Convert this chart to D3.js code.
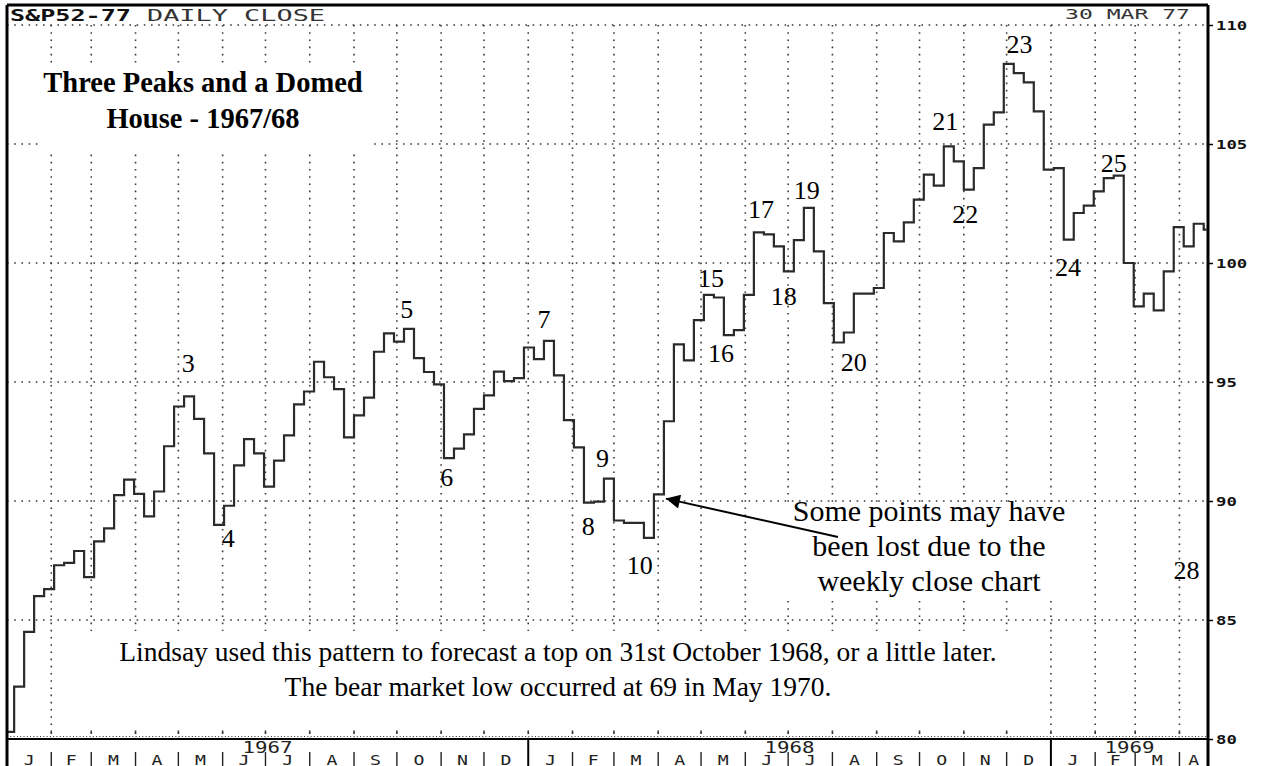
<!DOCTYPE html>
<html lang="en">
<head>
<meta charset="utf-8">
<title>S&amp;P Three Peaks and a Domed House 1967/68</title>
<style>
  body { margin: 0; padding: 0; background: #fff; }
  svg { display: block; }
  .mono { font-family: "DejaVu Sans Mono", "Liberation Mono", monospace; }
  .serif { font-family: "Liberation Serif", "Times New Roman", serif; }
</style>
</head>
<body>
<div id="chart"></div>
<script src="https://cdn.jsdelivr.net/npm/d3@7/dist/d3.min.js"></script>
<script>
// weekly closes (Friday), first value is the close of 30 Dec 1966
const weeklyCloses = [
  80.3, 82.2, 84.5, 86.0, 86.3, 87.3, 87.4, 87.9, 86.8, 88.3,
  88.85, 90.25, 90.9, 90.3, 89.35, 90.4, 92.3, 93.97, 94.4, 93.45,
  92.0, 89.0, 89.8, 91.5, 92.6, 92.0, 90.6, 91.7, 92.76, 94.06,
  94.6, 95.85, 95.2, 94.7, 92.67, 93.6, 94.34, 96.27, 97.04, 96.7,
  97.23, 96.0, 95.42, 94.9, 91.8, 92.2, 92.8, 93.87, 94.44, 95.44,
  95.04, 95.16, 96.45, 95.96, 96.73, 95.28, 93.4, 92.25, 89.93, 89.97,
  90.94, 89.18, 89.08, 89.08, 88.45, 90.28, 93.35, 96.58, 95.91, 97.6,
  98.66, 98.55, 96.97, 97.18, 98.66, 101.29, 101.2, 100.7, 99.65, 100.96,
  102.32, 100.49, 98.31, 96.66, 97.08, 98.71, 98.71, 98.95, 101.26, 100.91,
  101.71, 102.66, 103.71, 103.25, 104.9, 104.27, 103.08, 103.99, 105.81, 106.33,
  108.37, 107.98, 107.59, 106.37, 103.92, 103.99, 100.98, 102.1, 102.41, 103.01,
  103.57, 103.67, 100.0, 98.18, 98.71, 98.01, 99.65, 101.51, 100.7, 101.65,
  101.4
];

const priceTicks = [80, 85, 90, 95, 100, 105, 110];
const monthLetters = ["J", "F", "M", "A", "M", "J", "J", "A", "S", "O", "N", "D"];
const yearLabels = ["1967", "1968", "1969"];

// numbered turning points: label, date, value at the label's baseline
const pointLabels = [
  ["3", "1967-05-08", 95.4], ["4", "1967-06-05", 88.07], ["5", "1967-10-08", 97.69],
  ["6", "1967-11-05", 90.63], ["7", "1968-01-12", 97.27], ["8", "1968-02-12", 88.57],
  ["9", "1968-02-22", 91.43], ["10", "1968-03-19", 86.93], ["15", "1968-05-08", 98.99],
  ["16", "1968-05-15", 95.84], ["17", "1968-06-12", 101.89], ["18", "1968-06-28", 98.24],
  ["19", "1968-07-14", 102.69], ["20", "1968-08-16", 95.46], ["21", "1968-10-19", 105.59],
  ["22", "1968-11-02", 101.68], ["23", "1968-12-10", 108.82], ["24", "1969-01-13", 99.45],
  ["25", "1969-02-14", 103.82], ["28", "1969-04-06", 86.72]
];

const titleLines = ["Three Peaks and a Domed", "House - 1967/68"];
const noteLines = ["Some points may have", "been lost due to the", "weekly close chart"];
const footLines = [
  "Lindsay used this pattern to forecast a top on 31st October 1968, or a little later.",
  "The bear market low occurred at 69 in May 1970."
];

const W = 1278, H = 766;
const plotLeft = 7, plotRight = 1208, plotTop = 5, plotBottom = 739;

const svg = d3.select("#chart").append("svg")
  .attr("width", W).attr("height", H);

const x = d3.scaleTime()
  .domain([new Date(1967, 0, 1), new Date(1969, 3, 21)])
  .range([plotLeft, plotRight]);

const y = d3.scaleLinear()
  .domain([80, 110])
  .range([plotBottom, 25]);

const fridays = d3.timeFriday.range(new Date(1966, 11, 30), new Date(1969, 3, 19));
const data = weeklyCloses.map((c, i) => ({ date: fridays[i], close: c }));
// let the last weekly step run on a couple of days
data.push({ date: d3.timeDay.offset(data[data.length - 1].date, 2), close: weeklyCloses[weeklyCloses.length - 1] });

const months = d3.timeMonth.range(new Date(1967, 1, 1), x.domain()[1]);
const allMonths = d3.timeMonth.range(new Date(1967, 0, 1), x.domain()[1]);

// dotted grid
const grid = svg.append("g")
  .attr("stroke", "#3a3a3a")
  .attr("stroke-width", 1.6)
  .attr("stroke-dasharray", "1.6,5.6");

grid.selectAll("line.h")
  .data(priceTicks.filter(v => v > 80))
  .join("line")
  .attr("x1", plotLeft).attr("x2", plotRight)
  .attr("y1", d => y(d)).attr("y2", d => y(d));

grid.selectAll("line.v")
  .data(months)
  .join("line")
  .attr("x1", d => x(d)).attr("x2", d => x(d))
  .attr("y1", y(110)).attr("y2", plotBottom);

// white panels behind the annotations
const boxes = [[42, 64, 330, 86], [60, 631, 975, 99], [772, 505, 314, 95]];
svg.append("g").selectAll("rect")
  .data(boxes)
  .join("rect")
  .attr("x", d => d[0]).attr("y", d => d[1])
  .attr("width", d => d[2]).attr("height", d => d[3])
  .attr("fill", "#fff");

// row of tiny ticks above the time axis and month ticks
svg.append("line")
  .attr("x1", plotLeft).attr("x2", plotRight)
  .attr("y1", plotBottom - 2.5).attr("y2", plotBottom - 2.5)
  .attr("stroke", "#333").attr("stroke-width", 1)
  .attr("stroke-dasharray", "1,2.3");

svg.append("g").selectAll("line")
  .data(months)
  .join("line")
  .attr("x1", d => x(d)).attr("x2", d => x(d))
  .attr("y1", plotBottom - 7).attr("y2", plotBottom - 5)
  .attr("stroke", "#333").attr("stroke-width", 1.6);

// price line
svg.append("clipPath").attr("id", "plotClip")
  .append("rect")
  .attr("x", plotLeft).attr("y", plotTop)
  .attr("width", plotRight - plotLeft).attr("height", plotBottom - plotTop);

const line = d3.line()
  .x(d => x(d.date))
  .y(d => y(d.close))
  .curve(d3.curveStepAfter);

svg.append("path")
  .datum(data)
  .attr("clip-path", "url(#plotClip)")
  .attr("fill", "none")
  .attr("stroke", "#2b2b2b")
  .attr("stroke-width", 2.2)
  .attr("d", line);

// frame
svg.append("line").attr("x1", plotLeft).attr("x2", plotLeft).attr("y1", plotTop).attr("y2", H)
  .attr("stroke", "#000").attr("stroke-width", 3);
svg.append("line").attr("x1", plotRight).attr("x2", plotRight).attr("y1", plotTop).attr("y2", H)
  .attr("stroke", "#000").attr("stroke-width", 3);
svg.append("line").attr("x1", plotLeft).attr("x2", plotRight).attr("y1", plotTop).attr("y2", plotTop)
  .attr("stroke", "#000").attr("stroke-width", 3);
svg.append("line").attr("x1", plotLeft).attr("x2", plotRight).attr("y1", plotBottom).attr("y2", plotBottom)
  .attr("stroke", "#000").attr("stroke-width", 2);

// right price axis
const yAxis = d3.axisRight(y).tickValues(priceTicks).tickSize(4).tickPadding(3);
const yAxisG = svg.append("g")
  .attr("transform", `translate(${plotRight + 1},0)`)
  .call(yAxis);
yAxisG.select(".domain").remove();
yAxisG.selectAll(".tick line").attr("stroke", "#000").attr("stroke-width", 1.5);
yAxisG.selectAll(".tick text")
  .attr("class", "mono")
  .attr("fill", "#111")
  .attr("font-size", 13)
  .attr("font-weight", "bold")
  .attr("text-anchor", "start")
  .attr("dy", "0.36em")
  .attr("textLength", d => String(d).length * 10.4)
  .attr("lengthAdjust", "spacingAndGlyphs");

// time axis: year dividers, month separators and letters
const years = d3.timeYear.range(new Date(1968, 0, 1), x.domain()[1]);
svg.append("g").selectAll("line")
  .data(years)
  .join("line")
  .attr("x1", d => x(d)).attr("x2", d => x(d))
  .attr("y1", plotBottom).attr("y2", H)
  .attr("stroke", "#000").attr("stroke-width", 2);

svg.append("g").selectAll("line")
  .data(months.filter(d => d.getMonth() !== 0))
  .join("line")
  .attr("x1", d => x(d)).attr("x2", d => x(d))
  .attr("y1", 752).attr("y2", H)
  .attr("stroke", "#222").attr("stroke-width", 1.4);

const monthMid = d => (x(d) + Math.min(x(d3.timeMonth.offset(d, 1)), plotRight)) / 2;
svg.append("g").selectAll("text")
  .data(allMonths)
  .join("text")
  .attr("class", "mono")
  .attr("x", monthMid)
  .attr("y", 765)
  .attr("text-anchor", "middle")
  .attr("font-size", 14)
  .attr("fill", "#222")
  .attr("transform", d => `translate(${monthMid(d)},0) scale(1.3,1) translate(${-monthMid(d)},0)`)
  .text(d => monthLetters[d.getMonth()]);

svg.append("g").selectAll("text")
  .data(yearLabels)
  .join("text")
  .attr("class", "mono")
  .attr("x", d => {
    const a = x(new Date(+d, 0, 1)), b = Math.min(x(new Date(+d + 1, 0, 1)), plotRight);
    return (Math.max(a, plotLeft) + b) / 2 - 25;
  })
  .attr("y", 753)
  .attr("font-size", 15)
  .attr("fill", "#222")
  .attr("textLength", 50)
  .attr("lengthAdjust", "spacingAndGlyphs")
  .text(d => d);

// header
svg.append("text").attr("class", "mono")
  .attr("x", 10).attr("y", 21)
  .attr("font-size", 15).attr("font-weight", "bold").attr("fill", "#111")
  .attr("textLength", 121).attr("lengthAdjust", "spacingAndGlyphs")
  .text("S&P52-77");
svg.append("text").attr("class", "mono")
  .attr("x", 147).attr("y", 21)
  .attr("font-size", 15).attr("fill", "#333")
  .attr("textLength", 178).attr("lengthAdjust", "spacingAndGlyphs")
  .text("DAILY CLOSE");
svg.append("text").attr("class", "mono")
  .attr("x", 1065).attr("y", 19)
  .attr("font-size", 14).attr("fill", "#333")
  .attr("textLength", 125).attr("lengthAdjust", "spacingAndGlyphs")
  .text("30 MAR 77");

// title
svg.append("g").selectAll("text")
  .data(titleLines)
  .join("text")
  .attr("class", "serif")
  .attr("x", 203).attr("y", (d, i) => 92 + i * 36)
  .attr("text-anchor", "middle")
  .attr("font-size", 28.5).attr("font-weight", "bold")
  .text(d => d);

// numbered points
const parseDay = d3.timeParse("%Y-%m-%d");
svg.append("g").selectAll("text")
  .data(pointLabels)
  .join("text")
  .attr("class", "serif")
  .attr("x", d => x(parseDay(d[1])))
  .attr("y", d => y(d[2]))
  .attr("text-anchor", "middle")
  .attr("font-size", 26)
  .text(d => d[0]);

// note with arrow
svg.append("g").selectAll("text")
  .data(noteLines)
  .join("text")
  .attr("class", "serif")
  .attr("x", 929).attr("y", (d, i) => 521 + i * 35)
  .attr("text-anchor", "middle")
  .attr("font-size", 30)
  .text(d => d);

svg.append("defs").append("marker")
  .attr("id", "arrowHead")
  .attr("viewBox", "0 0 10 10")
  .attr("refX", 10).attr("refY", 5)
  .attr("markerWidth", 22).attr("markerHeight", 14)
  .attr("markerUnits", "userSpaceOnUse")
  .attr("orient", "auto")
  .append("path").attr("d", "M0,0L10,5L0,10Z").attr("fill", "#000");

const tipX = x(fridays[66]) + 2, tipY = y(90.1);
svg.append("line")
  .attr("x1", 838).attr("y1", 537)
  .attr("x2", tipX).attr("y2", tipY)
  .attr("stroke", "#000").attr("stroke-width", 2)
  .attr("marker-end", "url(#arrowHead)");

// footnote
svg.append("g").selectAll("text")
  .data(footLines)
  .join("text")
  .attr("class", "serif")
  .attr("x", 558).attr("y", (d, i) => 661 + i * 35)
  .attr("text-anchor", "middle")
  .attr("font-size", 27.5)
  .text(d => d);
</script>
</body>
</html>
